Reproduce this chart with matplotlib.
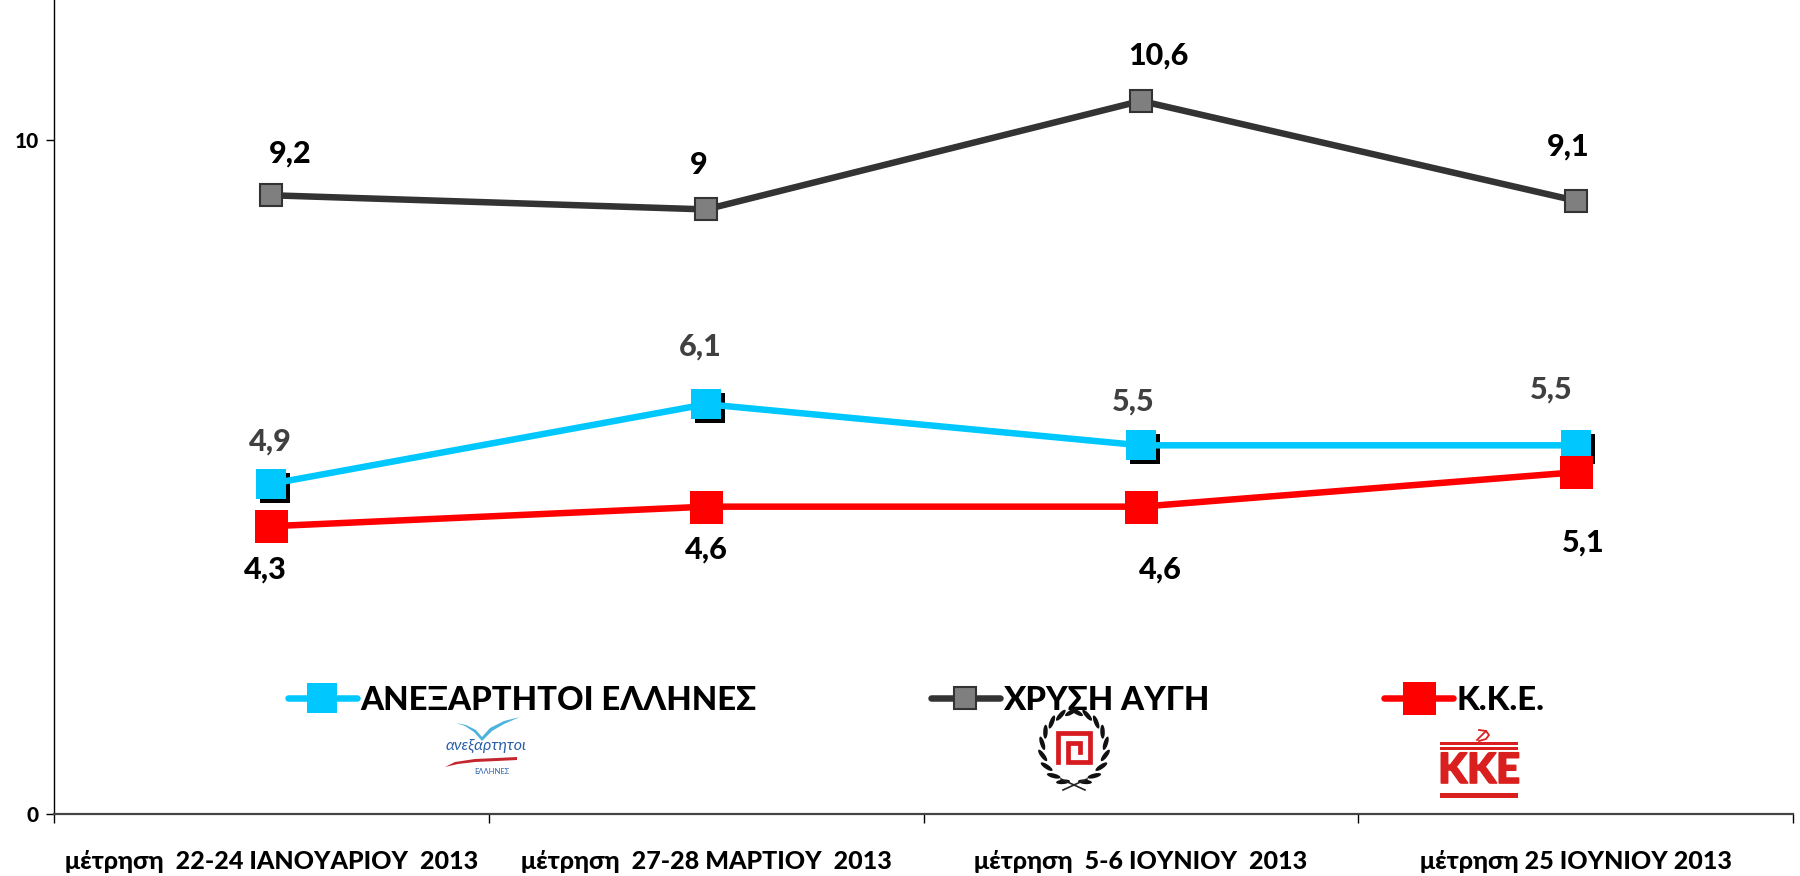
import numpy as np
import matplotlib
matplotlib.use("Agg")
import matplotlib.pyplot as plt
import matplotlib.patheffects as pe
from matplotlib.patches import Rectangle, Ellipse, Polygon
from matplotlib.lines import Line2D
from matplotlib.ticker import FixedLocator, NullFormatter, FixedFormatter
from matplotlib.transforms import Affine2D, ScaledTranslation

plt.rcParams['font.family'] = ['Lato', 'Noto Sans', 'DejaVu Sans']
plt.rcParams['font.weight'] = 900

categories = ["μέτρηση  22-24 ΙΑΝΟΥΑΡΙΟΥ  2013", "μέτρηση  27-28 ΜΑΡΤΙΟΥ  2013",
              "μέτρηση  5-6 ΙΟΥΝΙΟΥ  2013", "μέτρηση 25 ΙΟΥΝΙΟΥ 2013"]
anel = [4.9, 6.08, 5.47, 5.47]
chrysi = [9.18, 8.97, 10.58, 9.1]
kke = [4.27, 4.56, 4.56, 5.07]
anel_labels = ["4,9", "6,1", "5,5", "5,5"]
chrysi_labels = ["9,2", "9", "10,6", "9,1"]
kke_labels = ["4,3", "4,6", "4,6", "5,1"]
series_names = ["ΑΝΕΞΑΡΤΗΤΟΙ ΕΛΛΗΝΕΣ", "ΧΡΥΣΗ ΑΥΓΗ", "Κ.Κ.Ε."]
yticks = [0, 10]

W, H = 1800, 876
fig = plt.figure(figsize=(W / 100, H / 100), dpi=100, facecolor='white')
L, R, T, B = 54, 1793, 0, 814
ax = fig.add_axes([L / W, 1 - B / H, (R - L) / W, (B - T) / H])
ax.set_xlim(0, len(categories))
ax.set_ylim(0, (B - T) / 67.4)
px = 0.72
x = np.arange(len(categories)) + 0.5

l1, = ax.plot(x, anel, color='#00C8FF', lw=6.5 * px, marker='s', ms=30 * px, mew=0, zorder=4,
              label=series_names[0], solid_capstyle='round')
# black drop shadow behind the blue markers
shadow = ax.transData + ScaledTranslation(4 / 100, -4 / 100, fig.dpi_scale_trans)
ax.plot(x, anel, ls='none', color='black', marker='s', ms=30 * px, mew=0, zorder=3, transform=shadow)
l2, = ax.plot(x, chrysi, color='#333333', lw=6.5 * px, marker='s', ms=23 * px, mfc='#7F7F7F',
              mec='#333333', mew=1.5, zorder=4, label=series_names[1], solid_capstyle='round')
l3, = ax.plot(x, kke, color='#FF0000', lw=6.5 * px, marker='s', ms=33 * px, mew=0, zorder=5,
              label=series_names[2], solid_capstyle='round')


def labels(vals, texts, offs, color):
    for xi, v, t, o in zip(x, vals, texts, offs):
        ax.annotate(t, (xi, v), xytext=(o[0] * px, o[1] * px), textcoords='offset points',
                    ha='center', va='center', fontsize=22, fontweight=900, color=color, zorder=6)


labels(chrysi, chrysi_labels, [(19, 42), (-7, 44), (17, 45), (-7, 54)], 'black')
labels(anel, anel_labels, [(-1, 42), (-6, 58), (-8, 44), (-24, 56)], '#404040')
labels(kke, kke_labels, [(-6, -43), (0, -43), (20, -63), (8, -70)], 'black')

for s in ('top', 'right'):
    ax.spines[s].set_visible(False)
ax.spines['left'].set_linewidth(1)
ax.spines['bottom'].set_linewidth(1.6)
ax.spines['bottom'].set_color('#444444')
ax.xaxis.set_major_locator(FixedLocator(np.arange(len(categories) + 1)))
ax.xaxis.set_major_formatter(NullFormatter())
ax.xaxis.set_minor_locator(FixedLocator(x))
ax.xaxis.set_minor_formatter(FixedFormatter(categories))
ax.tick_params(axis='x', which='major', length=9 * px, width=1)
ax.tick_params(axis='x', which='minor', length=0, pad=26, labelsize=18)
ax.set_yticks(yticks)
ax.tick_params(axis='y', length=8 * px, width=1, labelsize=15, pad=5)
for t in ax.get_xticklabels(minor=True) + ax.get_yticklabels():
    t.set_fontweight(900)

leg = ax.legend(handles=[l1, l2, l3], ncol=3, loc='center', frameon=False,
                bbox_to_anchor=((916 - L) / (R - L), (B - 700) / (B - T)),
                prop={'size': 23.7, 'weight': 900}, handlelength=2.1, handletextpad=0.1,
                columnspacing=5.3, labelspacing=0, borderpad=0, borderaxespad=0)

# logos, in image pixels
pt = Affine2D().scale(1 / W, -1 / H).translate(0, 1) + fig.transFigure


def add(p):
    p.set_transform(pt)
    p.set_clip_on(False)
    fig.add_artist(p)


def txt(xp, yp, s, **kw):
    return fig.text(xp / W, 1 - yp / H, s, ha='center', va='center', **kw)


# Ανεξάρτητοι Έλληνες logo
add(Polygon([(456, 723), (466, 725), (476, 730), (482, 737), (490, 728), (504, 721), (520, 717),
             (504, 724), (492, 731), (482, 741), (474, 732), (465, 726)], closed=True, fc='#4DB3DC', ec='none'))
txt(486, 746, "ανεξαρτητοι", color='#2B5FA8', fontsize=11.5, fontweight='normal', style='italic')
add(Polygon([(445, 767), (455, 762), (475, 759), (497, 758), (517, 757), (517, 760), (497, 761),
             (475, 762), (458, 764)], closed=True, fc='#C4262E', ec='none'))
txt(492, 772, "ΕΛΛΗΝΕΣ", color='#2B5FA8', fontsize=5.5, fontweight='normal')

# Χρυσή Αυγή emblem
cx, cy, rx, ry = 1074, 748, 32, 36
for side in (-1, 1):
    for a in np.linspace(-85, 70, 9):
        r = np.radians(a)
        ex, ey = cx + side * rx * np.cos(r), cy + ry * np.sin(r)
        add(Ellipse((ex, ey), 4.5, 14, angle=side * (a + 25), fc='#111111', ec='none'))
    add(Line2D([cx + side * 13, cx - side * 11], [779, 790], color='#222222', lw=1.2, transform=pt))
mx = [1058, 1058, 1090, 1090, 1068, 1068, 1080, 1080]
my = [762, 733, 733, 762, 762, 743, 743, 752]
add(Line2D(mx, my, color='#D71920', lw=3.4, transform=pt, solid_joinstyle='miter'))

# Κ.Κ.Ε. logo
for yb, hb in ((742, 2.5), (747, 2.5), (793, 5)):
    add(Rectangle((1440, yb), 78, hb, fc='#D9201F', ec='none'))
k = txt(1479, 771, "KKE", color='#D9201F', fontsize=30, fontweight=900)
k.set_path_effects([pe.withStroke(linewidth=1.2, foreground='#D9201F')])
add(Line2D([1479, 1486, 1489, 1486, 1479], [730, 731, 735, 739, 741], color='#D9201F', lw=1.3, transform=pt))
add(Line2D([1477, 1486], [740, 731], color='#D9201F', lw=1.3, transform=pt))

fig.savefig('out.png', dpi=100, facecolor='white')
